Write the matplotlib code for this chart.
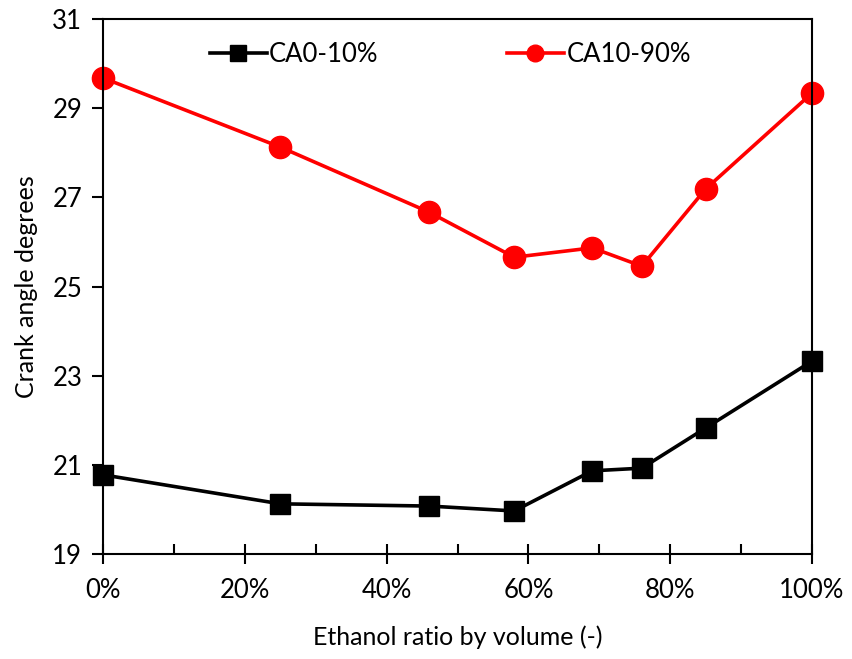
import matplotlib
matplotlib.use("Agg")
import matplotlib.pyplot as plt
from matplotlib.ticker import MultipleLocator, PercentFormatter

plt.rcParams['font.family'] = ['Lato', 'DejaVu Sans']

ethanol = [0.0, 0.25, 0.46, 0.58, 0.69, 0.76, 0.85, 1.0]
ca0_10 = [20.78, 20.13, 20.08, 19.97, 20.87, 20.93, 21.83, 23.33]
ca10_90 = [29.68, 28.13, 26.67, 25.66, 25.87, 25.46, 27.19, 29.34]
labels = ["CA0-10%", "CA10-90%"]
yticks = [19, 21, 23, 25, 27, 29, 31]

fig = plt.figure(figsize=(8.52, 6.59), dpi=100)
ax = fig.add_axes([0.121, 0.159, 0.832, 0.812])

ax.plot(ethanol, ca0_10, color='black', lw=2.6, marker='s', markersize=15, label=labels[0])
ax.plot(ethanol, ca10_90, color='red', lw=2.6, marker='o', markersize=16, label=labels[1])

ax.set_xlim(0, 1)
ax.set_ylim(19, 31)
ax.xaxis.set_major_locator(MultipleLocator(0.2))
ax.xaxis.set_minor_locator(MultipleLocator(0.1))
ax.xaxis.set_major_formatter(PercentFormatter(1.0, decimals=0))
ax.set_yticks(yticks)

ax.tick_params(axis='x', which='major', direction='inout', length=14, width=1.5, labelsize=18.5, pad=10, colors='black')
ax.tick_params(axis='x', which='minor', direction='in', length=7, width=1.5)
ax.tick_params(axis='y', which='major', direction='out', length=8, width=1.5, labelsize=18.5, pad=7)
for s in ax.spines.values():
    s.set_linewidth(1.5)
    s.set_clip_on(False)
for ln in ax.lines:
    ln.set_clip_on(False)

ax.set_xlabel("Ethanol ratio by volume (-)", fontsize=18, labelpad=16)
ax.set_ylabel("Crank angle degrees", fontsize=18, labelpad=10)

ax.legend(loc='upper center', bbox_to_anchor=(0.49, 1.0), ncol=2, frameon=False,
          fontsize=18.5, handlelength=2.2, handletextpad=0.1, columnspacing=5.0, markerscale=0.75)

fig.savefig("out.png", dpi=100)
